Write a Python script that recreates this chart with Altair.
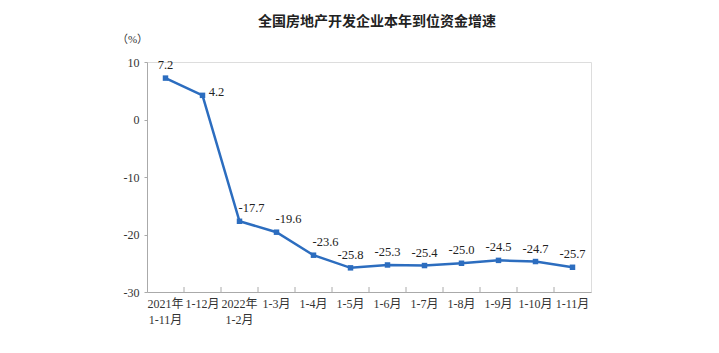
import altair as alt
import pandas as pd

categories = ["2021年\n1-11月", "1-12月", "2022年\n1-2月", "1-3月", "1-4月", "1-5月",
              "1-6月", "1-7月", "1-8月", "1-9月", "1-10月", "1-11月"]
values = [7.2, 4.2, -17.7, -19.6, -23.6, -25.8, -25.3, -25.4, -25.0, -24.5, -24.7, -25.7]
labels = ["7.2", "4.2", "-17.7", "-19.6", "-23.6", "-25.8", "-25.3", "-25.4", "-25.0", "-24.5", "-24.7", "-25.7"]
y_ticks = [10, 0, -10, -20, -30]

df = pd.DataFrame({"cat": categories, "val": values, "lab": labels, "idx": list(range(len(categories)))})

SERIF = "'Liberation Serif', 'Noto Sans CJK SC', serif"
BLUE = "#2c6dbf"

xaxis = alt.Axis(title=None, labelAngle=0, ticks=False, domainColor="#aaaaaa",
                 bandPosition=0.5,
                 labelExpr="split(datum.label, '\\n')", labelFont=SERIF,
                 labelFontSize=12, labelColor="#333333", labelPadding=6,
                 labelLineHeight=16)
xscale = alt.Scale(paddingInner=0, paddingOuter=0)
xenc = alt.X("cat:N", sort=categories, scale=xscale, axis=xaxis)
yenc = alt.Y("val:Q", scale=alt.Scale(domain=[-30, 10], nice=False),
             axis=alt.Axis(values=y_ticks, grid=False, title="（%）", titleAngle=0,
                           titleX=-15, titleY=-18, titleAlign="center", titleFont=SERIF,
                           titleFontSize=11, titleFontWeight="normal", titleColor="#333333",
                           labelExpr="'' + datum.value",
                           labelFont=SERIF, labelFontSize=12, labelColor="#333333",
                           domainColor="#aaaaaa", tickColor="#aaaaaa", tickSize=3, labelPadding=5))

base = alt.Chart(df)

line = base.mark_line(color=BLUE, strokeWidth=2.5).encode(x=xenc, y=yenc)
pts = base.mark_square(color=BLUE, size=30, opacity=1).encode(x=xenc, y="val:Q")

txt_style = dict(font=SERIF, fontSize=12.5, color="#222222")
t_center = base.transform_filter("datum.idx == 0 || datum.idx >= 5").mark_text(dy=-13, **txt_style).encode(
    x=xenc, y="val:Q", text="lab:N")
t_right = base.transform_filter("datum.idx == 1").mark_text(dx=14, dy=-3, **txt_style).encode(
    x=xenc, y="val:Q", text="lab:N")
t_upright = base.transform_filter("datum.idx >= 2 && datum.idx <= 4").mark_text(dx=12, dy=-13, **txt_style).encode(
    x=xenc, y="val:Q", text="lab:N")

ticks = base.transform_filter("datum.idx >= 1").mark_rule(color="#aaaaaa", strokeWidth=1).encode(
    x=alt.X("cat:N", sort=categories, scale=xscale, axis=xaxis, bandPosition=0),
    y=alt.value(225), y2=alt.value(230))

chart = alt.layer(line, ticks, pts, t_center, t_right, t_upright).properties(
    width=444, height=230,
    title=alt.TitleParams("全国房地产开发企业本年到位资金增速", font="Noto Sans CJK SC",
                          fontSize=14, fontWeight="bold", color="#222222", offset=4, dx=8),
    autosize=alt.AutoSizeParams(type="none"),
    padding={"left": 147, "top": 62, "right": 128, "bottom": 61},
).configure_view(stroke="#bbbbbb", strokeWidth=1).configure(background="white")

chart.save("out.html", embed_options={"renderer": "svg", "actions": False})
